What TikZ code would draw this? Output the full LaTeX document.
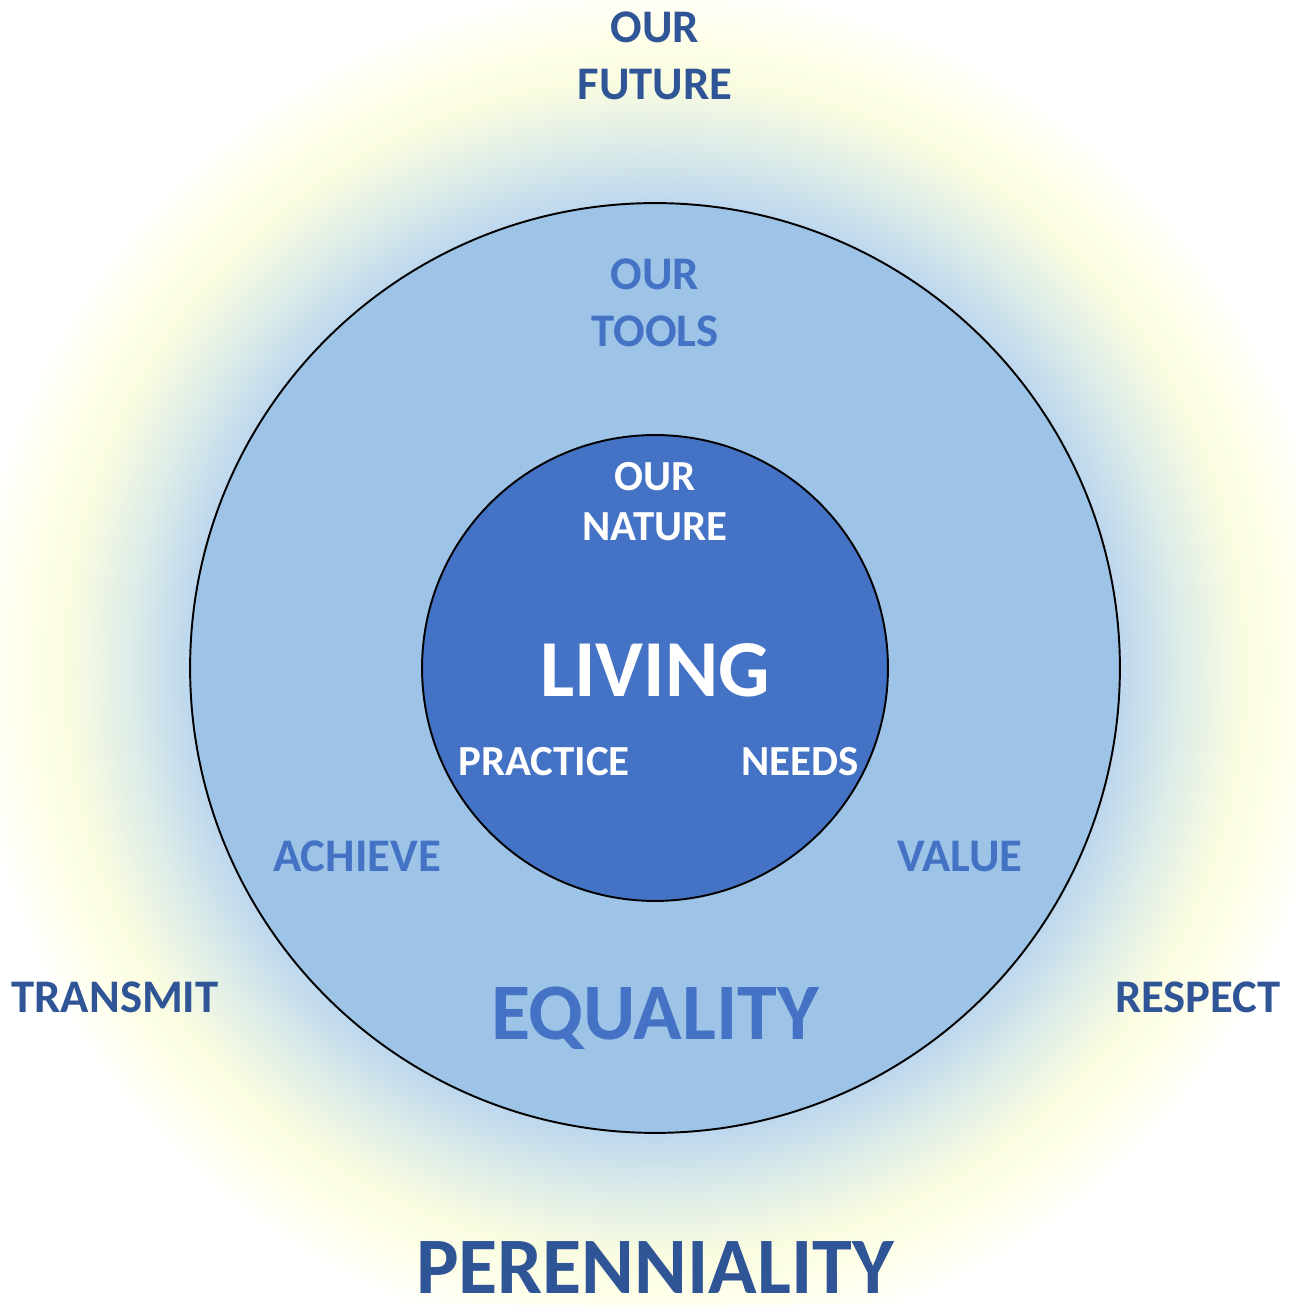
\documentclass[tikz,border=0pt]{standalone}
\usepackage{fontspec}
\setmainfont{Carlito}
\usepackage{tikz}
\usepackage{xcolor}
\definecolor{ringblue}{RGB}{157,195,230}
\definecolor{coreblue}{RGB}{68,114,196}
\definecolor{darkblue}{RGB}{47,85,151}
\definecolor{haloblue}{RGB}{190,215,238}
\definecolor{halogreen}{RGB}{222,237,232}
\definecolor{haloyellow}{RGB}{250,252,224}
\definecolor{halopale}{RGB}{255,255,236}
\pgfdeclareradialshading{halo}{\pgfpoint{0bp}{0bp}}{color(0bp)=(haloblue); color(15.5bp)=(haloblue); color(17.6bp)=(halogreen); color(19.6bp)=(haloyellow); color(21.3bp)=(halopale); color(22.8bp)=(white); color(50bp)=(white)}

\begin{document}
\begin{tikzpicture}[x=0.02cm, y=0.02cm,
    disc/.style={draw=black, line width=1.1pt, circle, inner sep=0pt},
    lab/.style={anchor=base, inner sep=0pt},
    twolines/.style={lab, align=center},
    smallfont/.style={font=\bfseries\fontsize{26.6}{32.6}\selectfont},
    corefont/.style={font=\bfseries\fontsize{24.4}{28.9}\selectfont},
    bigfont/.style={font=\bfseries\fontsize{45.6}{50}\selectfont}]
    % Canvas and halo
    \useasboundingbox (0,0) rectangle (1296,1305);
    \fill[white] (0,0) rectangle (1296,1305);
    \begin{scope}
        \clip (0,0) rectangle (1296,1305);
        \shade[shading=halo] (655,637) circle[radius=750];
    \end{scope}
    
    % Rings
    \node[disc, fill=ringblue, minimum size=18.6cm] (ring) at (655,637) {};
    \node[disc, fill=coreblue, minimum size=9.32cm] (core) at (655,637) {};
    
    % Outer labels (base = last line)
    \node[twolines, smallfont, darkblue] (future) at (655,1205) {OUR\\FUTURE};
    \foreach \nm/\x/\lab in {transmit/115/TRANSMIT, respect/1198/RESPECT} {
        \node[lab, smallfont, darkblue] (\nm) at (\x,292) {\lab};
    }
    \node[lab, bigfont, darkblue] (perenniality) at (655,11) {PERENNIALITY};
    
    % Ring labels
    \node[twolines, smallfont, coreblue] (tools) at (655,958) {OUR\\TOOLS};
    \foreach \nm/\x/\lab in {achieve/357/ACHIEVE, value/960/VALUE} {
        \node[lab, smallfont, coreblue] (\nm) at (\x,433) {\lab};
    }
    \node[lab, bigfont, coreblue] (equality) at (655,265) {EQUALITY};
    
    % Core labels
    \node[twolines, corefont, white] (nature) at (655,764) {OUR\\NATURE};
    \foreach \nm/\x/\lab in {practice/544/PRACTICE, needs/800/NEEDS} {
        \node[lab, corefont, white] (\nm) at (\x,529) {\lab};
    }
    \node[lab, white, font=\bfseries\fontsize{46}{50}\selectfont] (living) at (655,608) {LIVING};
\end{tikzpicture}
\end{document}
